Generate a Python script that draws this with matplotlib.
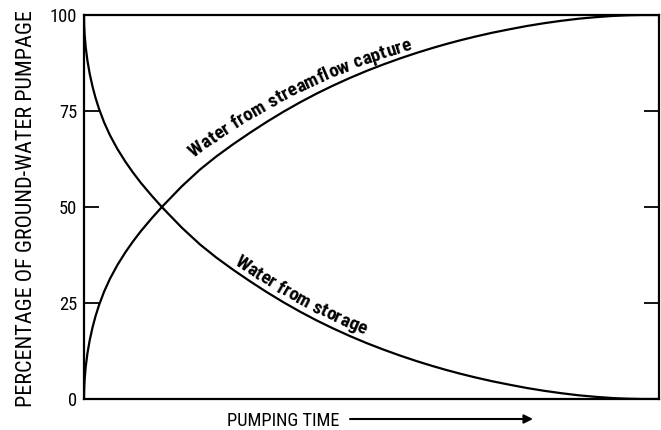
import numpy as np
import matplotlib
matplotlib.use("Agg")
import matplotlib.pyplot as plt
from matplotlib.transforms import IdentityTransform
from matplotlib.font_manager import FontProperties, fontManager

# ---------------- data ----------------
pumping_time = [0, 0.03, 0.1, 0.3, 0.6, 1.0, 1.5, 2.0, 2.6, 3.5, 4.5, 5.8, 7.2, 8.5,
                9.9, 11.8, 13.6, 17.0, 20.2, 23.0, 25.9, 28.9, 31.8, 34.7, 37.6,
                40.5, 43.3, 46.2, 49.2, 52.0, 55.0, 57.9, 60.7, 63.0, 65.4, 68.0,
                71.0, 74.0, 77.0, 80.0, 83.0, 86.0, 89.0, 92.0, 94.5, 97.0, 100.0]
water_from_storage = [100, 97.33, 95.13, 91.57, 88.08, 84.64, 81.26, 78.46, 75.6,
                      72.03, 68.73, 65.13, 61.79, 59.01, 56.27, 52.9, 49.9, 44.63,
                      40.21, 36.85, 33.69, 30.63, 27.82, 25.18, 22.72, 20.43, 18.39,
                      16.42, 14.53, 12.91, 11.29, 9.84, 8.55, 7.56, 6.60, 5.64, 4.62,
                      3.72, 2.87, 2.14, 1.51, 0.97, 0.56, 0.24, 0.08, 0, 0]
water_from_streamflow = [0, 2.67, 4.87, 8.43, 11.92, 15.36, 18.74, 21.54, 24.4, 27.97,
                         31.27, 34.87, 38.21, 40.99, 43.73, 47.1, 50.1, 55.37, 59.79,
                         63.15, 66.31, 69.37, 72.18, 74.82, 77.28, 79.57, 81.61, 83.58,
                         85.47, 87.09, 88.71, 90.16, 91.45, 92.44, 93.40, 94.36, 95.38,
                         96.28, 97.13, 97.86, 98.49, 99.03, 99.44, 99.76, 99.92, 100, 100]
y_ticks = [0, 25, 50, 75, 100]
y_label = "PERCENTAGE OF GROUND-WATER PUMPAGE"
x_label = "PUMPING TIME"
label_storage = "Water from storage"
label_stream = "Water from streamflow capture"

# ---------------- font choice: prefer a condensed sans ----------------
names = {f.name for f in fontManager.ttflist}
FAM, STRETCH = "Roboto", "normal"
for cand in ["Liberation Sans Narrow", "Roboto Condensed", "Open Sans Condensed",
             "Arial Narrow", "Nimbus Sans Narrow", "DejaVu Sans Condensed"]:
    if cand in names:
        FAM = cand
        break
else:
    cond = [f for f in fontManager.ttflist
            if f.name == "DejaVu Sans" and str(f.stretch) in ("condensed", "semi-condensed")]
    if cond:
        FAM, STRETCH = "DejaVu Sans", "condensed"
    elif "Roboto" not in names:
        FAM = "Liberation Sans"
FONT = [FAM, "DejaVu Sans"]
plt.rcParams["font.family"] = FONT
plt.rcParams["font.stretch"] = STRETCH

W, H = 661, 430
fig = plt.figure(figsize=(W / 100, H / 100), dpi=100)
ax = fig.add_axes([84 / W, 31 / H, 575 / W, 384 / H])
fig.canvas.draw()
R = fig.canvas.get_renderer()


def width_px(text, fp):
    return R.get_text_width_height_descent(text, fp, ismath=False)[0]


def fit(text, target, weight="normal"):
    fp = FontProperties(family=FONT, weight=weight, stretch=STRETCH, size=10)
    return 10 * target / width_px(text, fp)


ax.plot(pumping_time, water_from_storage, color="black", lw=1.6)
ax.plot(pumping_time, water_from_streamflow, color="black", lw=1.6)
ax.set_xlim(0, 100)
ax.set_ylim(0, 100)
ax.set_xticks([])
ax.set_yticks(y_ticks)
ax.set_yticklabels([str(v) for v in y_ticks])
tick_size = fit("100", 27)
ax.tick_params(axis="y", direction="in", length=11, width=1.3, right=True,
               labelsize=tick_size, pad=5, colors="black")
for s in ax.spines.values():
    s.set_linewidth(1.6)

# y axis title
ysz = fit(y_label, 397)
fig.text(32 / W, 1 - 208.5 / H, y_label, rotation=90, rotation_mode="anchor",
         ha="center", va="baseline", fontsize=ysz, color="black")

# x axis title + arrow
xsz = fit(x_label, 113)
cap = 0.72 * xsz * 100 / 72
fig.text(227 / W, (H - 419 - cap / 2) / H, x_label, ha="left", va="baseline",
         fontsize=xsz, color="black")
ax.annotate("", xy=(533, H - 419), xytext=(350, H - 419), xycoords="figure pixels",
            textcoords="figure pixels",
            arrowprops=dict(arrowstyle="-|>", color="black", lw=1.5,
                            mutation_scale=13, shrinkA=0, shrinkB=0))


def text_along(ax, xs, ys, text, x_start, off0, off1, fp):
    pts = ax.transData.transform(np.column_stack([xs, ys]))
    seg = np.hypot(*np.diff(pts, axis=0).T)
    s = np.concatenate([[0], np.cumsum(seg)])
    s0 = np.interp(x_start, xs, s)
    ref = width_px("l", fp)

    def adv(t):
        return width_px(t + "l", fp) - ref

    total = adv(text)

    def anchor(c):
        px = np.interp(c, s, pts[:, 0])
        py = np.interp(c, s, pts[:, 1])
        d = 6
        dx = np.interp(c + d, s, pts[:, 0]) - np.interp(c - d, s, pts[:, 0])
        dy = np.interp(c + d, s, pts[:, 1]) - np.interp(c - d, s, pts[:, 1])
        a = np.arctan2(dy, dx)
        f = np.clip((c - s0) / total, 0, 1)
        off = off0 + (off1 - off0) * f
        return np.array([px - np.sin(a) * off, py + np.cos(a) * off])

    for i, ch in enumerate(text):
        if ch == " ":
            continue
        c = s0 + (adv(text[:i]) + adv(text[:i + 1])) / 2
        p = anchor(c)
        q1, q2 = anchor(c - 10), anchor(c + 10)
        ang = np.degrees(np.arctan2(q2[1] - q1[1], q2[0] - q1[0]))
        ax.text(p[0], p[1], ch, transform=IdentityTransform(),
                rotation=ang, rotation_mode="anchor", ha="center",
                va="baseline", fontproperties=fp, color="black")


lsz = 0.5 * (fit(label_stream, 246, weight="bold") + fit(label_storage, 146, weight="bold"))
fp = FontProperties(family=FONT, weight="bold", stretch=STRETCH, size=lsz)
text_along(ax, pumping_time, water_from_streamflow, label_stream, 20.5, 13, 4.5, fp)
text_along(ax, pumping_time, water_from_storage, label_storage, 25.5, 4.5, 7, fp)

fig.savefig("out.png", dpi=100)
